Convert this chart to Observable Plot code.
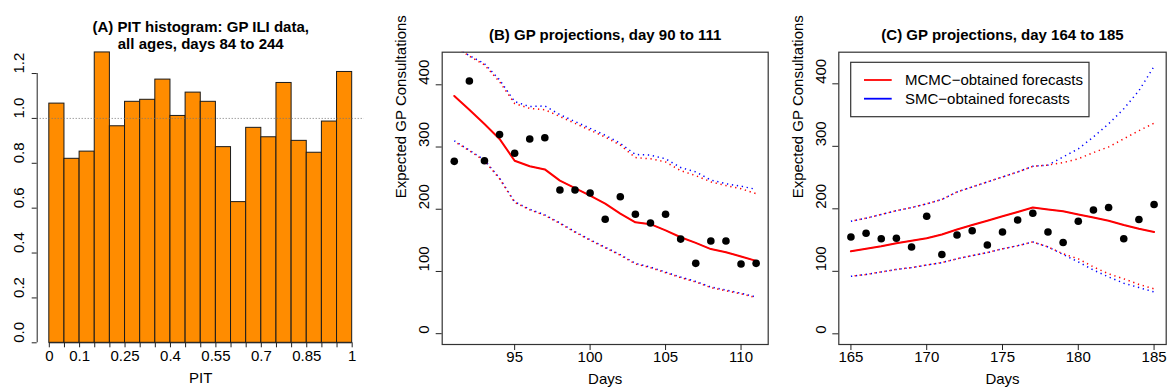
<!DOCTYPE html>
<html>
<head>
<meta charset="utf-8">
<script src="https://cdn.jsdelivr.net/npm/d3@7"></script>
<script src="https://cdn.jsdelivr.net/npm/@observablehq/plot@0.6"></script>
<style>
  body { margin: 0; background: #fff; }
  #wrap { position: relative; width: 1172px; height: 392px; overflow: hidden; background: #fff; }
  .panel { position: absolute; top: 0; height: 392px; }
</style>
</head>
<body>
<div id="wrap">
  <div class="panel" id="pa" style="left:0px;width:390px"></div>
  <div class="panel" id="pb" style="left:390px;width:390px"></div>
  <div class="panel" id="pc" style="left:780px;width:392px"></div>
</div>
<script>
// ---------------- DATA ----------------
// Panel A: PIT histogram
const pitBinStart = [0, 0.05, 0.1, 0.15, 0.2, 0.25, 0.3, 0.35, 0.4, 0.45, 0.5, 0.55, 0.6, 0.65, 0.7, 0.75, 0.8, 0.85, 0.9, 0.95];
const pitBinWidth = 0.05;
const pitDensity = [1.066, 0.820, 0.852, 1.294, 0.965, 1.074, 1.083, 1.173, 1.011, 1.115, 1.074, 0.872, 0.627, 0.958, 0.916, 1.158, 0.900, 0.847, 0.986, 1.207];
const pitTicks = [0, 0.05, 0.1, 0.15, 0.2, 0.25, 0.3, 0.35, 0.4, 0.45, 0.5, 0.55, 0.6, 0.65, 0.7, 0.75, 0.8, 0.85, 0.9, 0.95, 1];
const pitTickLabels = [0, 0.1, 0.25, 0.4, 0.55, 0.7, 0.85, 1];
const pitYTicks = [0, 0.2, 0.4, 0.6, 0.8, 1.0, 1.2];
const pitReference = [1];

// Panel B: days 91..111
const daysB = [91, 92, 93, 94, 95, 96, 97, 98, 99, 100, 101, 102, 103, 104, 105, 106, 107, 108, 109, 110, 111];
const obsB = [277, 406, 278, 320, 290, 313, 315, 231, 231, 226, 184, 220, 192, 178, 192, 152, 113, 149, 149, 112, 113];
const mcmcMedB = [382, 360, 337, 313, 278, 269, 264, 246, 234, 222, 209, 193, 179, 176, 166, 155, 146, 136, 131, 124, 117];
const smcMedB = [382, 360, 337, 313, 278, 269, 264, 246, 234, 222, 209, 193, 179, 176, 166, 155, 146, 136, 131, 124, 117];
const mcmcUpB = [462, 446, 432, 405, 370, 362, 360, 349, 338, 327, 316, 303, 283, 281, 276, 262, 254, 244, 238, 233, 225];
const smcUpB = [462, 447, 434, 408, 373, 365, 366, 352, 341, 330, 319, 306, 288, 287, 281, 267, 260, 247, 241, 237, 232];
const mcmcLoB = [309, 294, 278, 249, 211, 199, 190, 177, 163, 150, 138, 126, 112, 106, 98, 90, 83, 74, 69, 64, 58];
const smcLoB = [310, 295, 279, 250, 212, 200, 191, 178, 164, 151, 139, 127, 113, 107, 99, 91, 84, 75, 70, 65, 59];
const xTicksB = [95, 100, 105, 110];

// Panel C: days 165..185
const daysC = [165, 166, 167, 168, 169, 170, 171, 172, 173, 174, 175, 176, 177, 178, 179, 180, 181, 182, 183, 184, 185];
const obsC = [155, 161, 152, 153, 139, 188, 127, 158, 165, 142, 163, 182, 193, 163, 146, 180, 198, 202, 152, 183, 207];
const mcmcMedC = [132, 136, 140, 145, 149, 153, 159, 167, 174, 181, 188, 195, 202, 199, 196, 191, 186, 181, 174, 168, 163];
const smcMedC = [132, 136, 140, 145, 149, 153, 159, 167, 174, 181, 188, 195, 202, 199, 196, 191, 186, 181, 174, 168, 163];
const mcmcUpC = [180, 185, 191, 197, 202, 208, 215, 227, 235, 243, 251, 259, 268, 270, 274, 280, 290, 299, 312, 325, 337];
const smcUpC = [180, 185, 191, 197, 202, 208, 215, 227, 235, 243, 251, 259, 268, 270, 283, 296, 315, 336, 360, 389, 428];
const mcmcLoC = [92, 95, 99, 103, 106, 110, 114, 120, 125, 130, 136, 141, 147, 139, 128, 120, 107, 96, 88, 79, 72];
const smcLoC = [92, 95, 99, 103, 106, 110, 114, 120, 125, 130, 136, 141, 147, 139, 127, 115, 102, 91, 81, 74, 67];
const xTicksC = [165, 170, 175, 180, 185];

const yTicksGP = [0, 100, 200, 300, 400];
const legendLabels = ["MCMC\u2212obtained forecasts", "SMC\u2212obtained forecasts"];
const legendColors = ["#ff0000", "#0000ff"];

// ---------------- STYLE ----------------
const FONT = "'Liberation Sans', Arial, Helvetica, sans-serif";
const AX = "#222";
const baseStyle = {fontFamily: FONT, fontSize: "15px", background: "white", color: "black", overflow: "visible"};
const DOT = "1.3,3.7";

// ---------------- PANEL A ----------------
const bins = pitBinStart.map((x, i) => ({x1: x, x2: x + pitBinWidth, y: pitDensity[i]}));
const xA = [-0.04, 1.04];
const A = Plot.plot({
  width: 390, height: 392,
  marginLeft: 36.7, marginRight: 26.2, marginTop: 50.6, marginBottom: 49.7,
  x: {domain: xA, axis: null},
  y: {domain: [0, 1.3], axis: null},
  style: baseStyle,
  marks: [
    Plot.rect(bins, {x1: "x1", x2: "x2", y1: 0, y2: "y", fill: "#ff8c00", stroke: "#1a1a1a", strokeWidth: 1}),
    Plot.ruleY(pitReference, {stroke: "#777", strokeDasharray: "1,2"}),
    Plot.ruleX([xA[0]], {y1: 0, y2: 1.2, stroke: AX}),
    Plot.ruleY(pitYTicks, {x1: xA[0], x2: xA[0], insetLeft: -5, stroke: AX}),
    Plot.text(pitYTicks, {y: d => d, frameAnchor: "left", dx: -18, rotate: -90, text: d => d.toFixed(1), fontSize: 15}),
    Plot.ruleY([0], {x1: 0, x2: 1, stroke: AX}),
    Plot.ruleX(pitTicks, {y1: 0, y2: 0, insetBottom: -5, stroke: AX}),
    Plot.text(pitTickLabels, {x: d => d, frameAnchor: "bottom", dy: 18, text: d => String(d), fontSize: 15}),
    Plot.text(["PIT"], {frameAnchor: "bottom", dy: 40, text: d => d, fontSize: 15}),
    Plot.text(["(A) PIT histogram: GP ILI data,"], {frameAnchor: "top", dy: -30, text: d => d, fontWeight: "bold", fontSize: 15}),
    Plot.text(["all ages, days 84 to 244"], {frameAnchor: "top", dy: -12.5, text: d => d, fontWeight: "bold", fontSize: 15})
  ]
});
document.getElementById("pa").appendChild(A);

// ---------------- PANELS B & C ----------------
function gpPanel({days, obs, mcmcMed, smcMed, mcmcUp, smcUp, mcmcLo, smcLo, xDomain, yDomain, xTicks, title, width, marginLeft, marginRight}) {
  const rows = days.map((d, i) => ({day: d, obs: obs[i], mcmcMed: mcmcMed[i], smcMed: smcMed[i], mcmcUp: mcmcUp[i], smcUp: smcUp[i], mcmcLo: mcmcLo[i], smcLo: smcLo[i]}));
  const dotted = (y, color, off) => Plot.line(rows, {x: "day", y, stroke: color, strokeWidth: 1.5, strokeDasharray: DOT, strokeDashoffset: off, strokeLinecap: "butt", clip: true});
  return Plot.plot({
    width, height: 392,
    marginLeft, marginRight, marginTop: 51.7, marginBottom: 48,
    x: {domain: xDomain, axis: null},
    y: {domain: yDomain, axis: null},
    style: baseStyle,
    marks: [
      dotted("smcUp", "#0000ff", 0),
      dotted("mcmcUp", "#ff0000", 1.3),
      dotted("smcLo", "#0000ff", 0),
      dotted("mcmcLo", "#ff0000", 1.3),
      Plot.line(rows, {x: "day", y: "smcMed", stroke: "#0000ff", strokeWidth: 0.8, clip: true}),
      Plot.line(rows, {x: "day", y: "mcmcMed", stroke: "#ff0000", strokeWidth: 2, clip: true}),
      Plot.dot(rows, {x: "day", y: "obs", r: 3.8, fill: "black", stroke: "none"}),
      Plot.frame({stroke: "#333", strokeWidth: 1.2}),
      Plot.ruleY(yTicksGP, {x1: xDomain[0], x2: xDomain[0], insetLeft: -6, stroke: AX}),
      Plot.text(yTicksGP, {y: d => d, frameAnchor: "left", dx: -18, rotate: -90, text: d => String(d), fontSize: 15}),
      Plot.ruleX(xTicks, {y1: yDomain[0], y2: yDomain[0], insetBottom: -6, stroke: AX}),
      Plot.text(xTicks, {x: d => d, frameAnchor: "bottom", dy: 17, text: d => String(d), fontSize: 15}),
      Plot.text(["Days"], {frameAnchor: "bottom", dy: 39, text: d => d, fontSize: 15}),
      Plot.text(["Expected GP Consultations"], {frameAnchor: "left", dx: -41, rotate: -90, text: d => d, fontSize: 15}),
      Plot.text([title], {frameAnchor: "top", dy: -22.5, text: d => d, fontWeight: "bold", fontSize: 15})
    ]
  });
}

const B = gpPanel({
  days: daysB, obs: obsB, mcmcMed: mcmcMedB, smcMed: smcMedB, mcmcUp: mcmcUpB, smcUp: smcUpB, mcmcLo: mcmcLoB, smcLo: smcLoB,
  xDomain: [90.2, 111.8], yDomain: [-17.4, 452.4], xTicks: xTicksB,
  title: "(B) GP projections, day 90 to 111", width: 390, marginLeft: 51.7, marginRight: 12.3
});
document.getElementById("pb").appendChild(B);

const C = gpPanel({
  days: daysC, obs: obsC, mcmcMed: mcmcMedC, smcMed: smcMedC, mcmcUp: mcmcUpC, smcUp: smcUpC, mcmcLo: mcmcLoC, smcLo: smcLoC,
  xDomain: [164.2, 185.8], yDomain: [-17.1, 450.6], xTicks: xTicksC,
  title: "(C) GP projections, day 164 to 185", width: 392, marginLeft: 58.3, marginRight: 6.3
});
document.getElementById("pc").appendChild(C);

// Legend for panel C
const lg = d3.select(C).append("g").attr("font-family", FONT).attr("font-size", 15).attr("text-anchor", "start");
lg.append("rect").attr("x", 70.7).attr("y", 62.3).attr("width", 238.3).attr("height", 54.4)
  .attr("fill", "white").attr("stroke", "#333").attr("stroke-width", 1.2);
legendLabels.forEach((lab, i) => {
  const cy = 80 + i * 18.7;
  lg.append("line").attr("x1", 84).attr("x2", 111.7).attr("y1", cy).attr("y2", cy)
    .attr("stroke", legendColors[i]).attr("stroke-width", 1.8);
  lg.append("text").attr("x", 125).attr("y", cy).attr("dy", "0.35em").attr("text-anchor", "start").attr("fill", "black").text(lab);
});
</script>
</body>
</html>
